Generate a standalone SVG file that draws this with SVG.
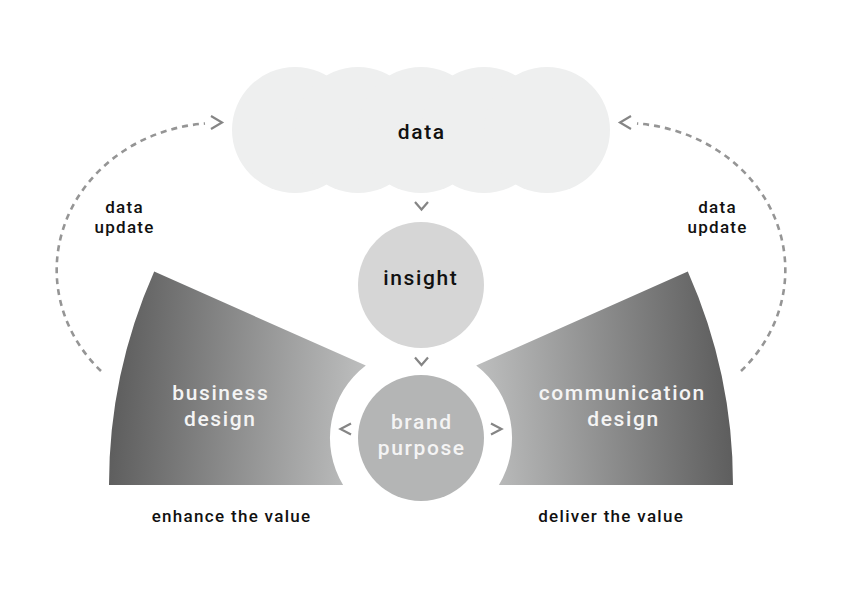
<svg xmlns="http://www.w3.org/2000/svg" width="842" height="595" viewBox="0 0 842 595">
  <style>
    .t { font-family: Roboto, "Liberation Sans", sans-serif; font-weight: 500; text-anchor: middle; }
    .big { font-size: 21px; letter-spacing: 1.6px; }
    .small { font-size: 17px; letter-spacing: 1.3px; }
    .dark { fill: #111111; }
    .light { fill: #f4f4f4; }
    .chev { fill: none; stroke: #858585; stroke-width: 2.2; stroke-linecap: butt; stroke-linejoin: miter; }
    .dash { fill: none; stroke: #959595; stroke-width: 2.6; stroke-dasharray: 6 5; }
  </style>
  <defs>
    <linearGradient id="gl" gradientUnits="userSpaceOnUse" x1="108" y1="380" x2="370" y2="400">
      <stop offset="0" stop-color="#5b5b5b"/>
      <stop offset="1" stop-color="#c0c1c1"/>
    </linearGradient>
    <linearGradient id="gr" gradientUnits="userSpaceOnUse" x1="734" y1="380" x2="472" y2="400">
      <stop offset="0" stop-color="#5b5b5b"/>
      <stop offset="1" stop-color="#c0c1c1"/>
    </linearGradient>
  </defs>
  <rect width="842" height="595" fill="#ffffff"/>

  <g id="data">
    <g fill="#eeefef">
      <circle cx="295" cy="130" r="63"/>
      <circle cx="358" cy="130" r="63"/>
      <circle cx="421" cy="130" r="63"/>
      <circle cx="484" cy="130" r="63"/>
      <circle cx="547" cy="130" r="63"/>
    </g>
    <text class="t big dark" x="421.8" y="139">data</text>
  </g>

  <g id="insight">
    <circle cx="421" cy="285" r="63" fill="#d6d6d6"/>
    <text class="t big dark" x="420.8" y="285">insight</text>
  </g>

  <g id="business-design">
    <path d="M109,485 A526,526 0 0 1 154.2,271.6 L365.8,365.5 A91,91 0 0 0 343.1,485 Z" fill="url(#gl)"/>
    <text class="t big light" x="220.8" y="400">business</text>
    <text class="t big light" x="220.3" y="426">design</text>
  </g>

  <g id="communication-design">
    <path d="M733,485 A526,526 0 0 0 687.8,271.6 L476.2,365.5 A91,91 0 0 1 498.9,485 Z" fill="url(#gr)"/>
    <text class="t big light" x="622.3" y="400">communication</text>
    <text class="t big light" x="623.5" y="426">design</text>
  </g>

  <g id="brand-purpose">
    <circle cx="421" cy="438" r="63" fill="#b4b5b5"/>
    <text class="t big light" x="421.8" y="429">brand</text>
    <text class="t big light" x="421.8" y="454.5">purpose</text>
  </g>

  <g id="labels">
    <text class="t small dark" x="231.6" y="522">enhance the value</text>
    <text class="t small dark" x="611.2" y="522">deliver the value</text>
    <text class="t small dark" x="124.6" y="213">data</text>
    <text class="t small dark" x="124.6" y="233">update</text>
    <text class="t small dark" x="717.6" y="213">data</text>
    <text class="t small dark" x="717.6" y="233">update</text>
  </g>

  <g id="connectors">
    <path class="dash" d="M101,371 A162,147 0 0 1 205,123.5"/>
    <path class="dash" d="M741,371 A162,147 0 0 0 637,123.5"/>
    <polyline class="chev" points="211,116 222,122.5 211,129"/>
    <polyline class="chev" points="631,116 620,122.5 631,129"/>
    <polyline class="chev" points="415,202 421.5,209.5 428,202"/>
    <polyline class="chev" points="415,357.5 421.5,365 428,357.5"/>
    <polyline class="chev" points="351,423.5 340.5,429 351,434.5"/>
    <polyline class="chev" points="491,423.5 501.5,429 491,434.5"/>
  </g>
</svg>
